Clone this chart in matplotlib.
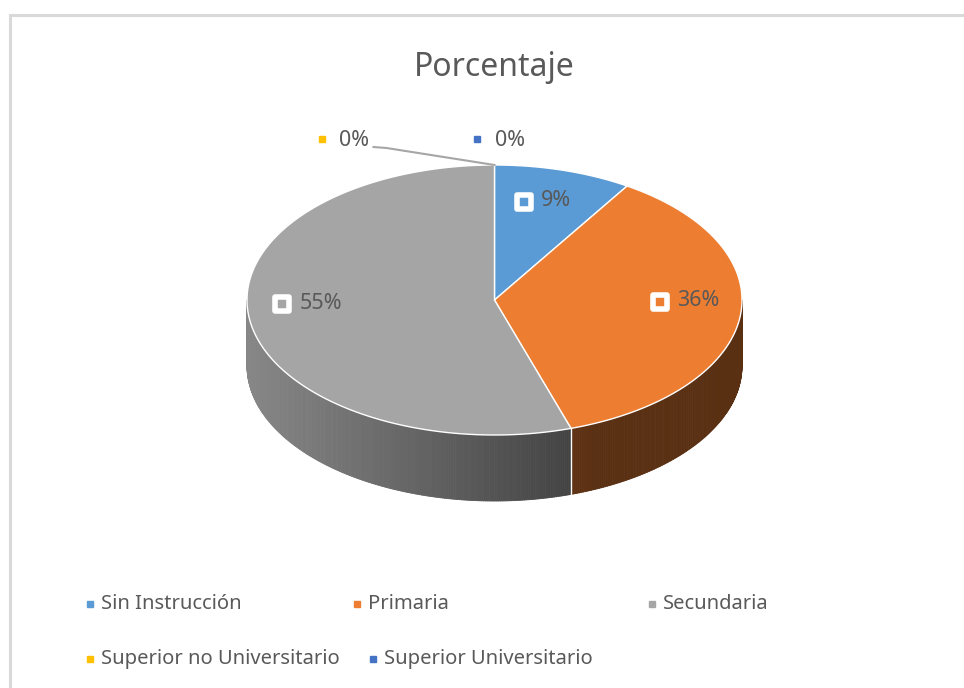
import numpy as np
import matplotlib
matplotlib.use("Agg")
import matplotlib.pyplot as plt
from matplotlib.patches import Polygon
from matplotlib.collections import PolyCollection
from matplotlib.markers import MarkerStyle
from matplotlib import colors as mcolors

# ---------------- data ----------------
title = "Porcentaje"
categories = ["Sin Instrucción", "Primaria", "Secundaria",
              "Superior no Universitario", "Superior Universitario"]
values = [9, 36, 55, 0, 0]
labels = ["9%", "36%", "55%", "0%", "0%"]
slice_colors = ["#5b9bd5", "#ed7d31", "#a5a5a5", "#ffc000", "#4472c4"]

# ---------------- layout ----------------
W, H = 964, 688
CX, CY, RX, RY, DEPTH = 494.5, 300.0, 247.5, 135.0, 66.0
TEXT = "#595959"
FONT = ["Liberation Sans Narrow", "Noto Sans", "DejaVu Sans"]

fig = plt.figure(figsize=(W / 100, H / 100), dpi=100)
ax = fig.add_axes([0, 0, 1, 1])
ax.set_xlim(0, W)
ax.set_ylim(H, 0)
ax.axis("off")

# chart frame
ax.plot([9.5, 9.5, W + 5], [H + 5, 14.5, 14.5], color="#d9d9d9", lw=2.2,
        solid_joinstyle="miter", zorder=0)


def pt(theta_deg, r=1.0, dy=0.0):
    t = np.radians(theta_deg)
    return CX + r * RX * np.cos(t), CY - r * RY * np.sin(t) + dy


total = float(sum(values))
cum = np.concatenate([[0], np.cumsum(values)]) / total
starts = 90 - 360 * cum[:-1]
ends = 90 - 360 * cum[1:]


def shade(color, x):
    rgb = np.array(mcolors.to_rgb(color))
    f = 0.82 - 0.42 * (x - (CX - RX)) / 330.0
    f = max(f, 0.38)
    return tuple(np.clip(rgb * f, 0, 1))


# ---------------- sides (front half only) ----------------
for v, c, a0, a1 in zip(values, slice_colors, starts, ends):
    if v <= 0:
        continue
    hi, lo = a0, a1
    segs, cols = [], []
    for k in range(-1, 1):
        vis_hi = min(hi, 0 + 360 * k)
        vis_lo = max(lo, -180 + 360 * k)
        if vis_hi <= vis_lo:
            continue
        th = np.linspace(vis_hi, vis_lo, max(int((vis_hi - vis_lo) * 2), 2))
        for t1, t2 in zip(th[:-1], th[1:]):
            x1, y1 = pt(t1)
            x2, y2 = pt(t2)
            segs.append([(x1, y1), (x2, y2), (x2, y2 + DEPTH), (x1, y1 + DEPTH)])
            cols.append(shade(c, (x1 + x2) / 2))
    if segs:
        ax.add_collection(PolyCollection(segs, facecolors=cols, edgecolors=cols,
                                         linewidths=0.6, zorder=1))

# white boundary lines on the side
for a in list(starts) + [ends[-1]]:
    s = np.sin(np.radians(a))
    if s < -0.05:
        x, y = pt(a)
        ax.plot([x, x], [y, y + DEPTH], color="white", lw=1.0, zorder=2)

# ---------------- top ----------------
for v, c, a0, a1 in zip(values, slice_colors, starts, ends):
    if v <= 0:
        continue
    th = np.linspace(a0, a1, 200)
    xs, ys = pt(th)
    poly = [(CX, CY)] + list(zip(xs, ys))
    ax.add_patch(Polygon(poly, closed=True, facecolor=c, edgecolor="white",
                         lw=1.0, zorder=3))

# ---------------- data labels ----------------
box = MarkerStyle("s", joinstyle="round")


def boxed_marker(x, y, c):
    ax.plot([x], [y], marker=box, markersize=10, markerfacecolor=c,
            markeredgecolor="white", markeredgewidth=4.0,
            linestyle="none", zorder=5)

label_fs = 15.5
for v, c, a0, a1, lab in zip(values, slice_colors, starts, ends, labels):
    if v <= 0:
        continue
    mid = (a0 + a1) / 2
    t = np.radians(mid)
    lx = CX + 0.77 * RX * np.cos(t)
    ly = CY - 11 - 0.68 * RY * np.sin(t)
    boxed_marker(lx - 24, ly + 1, c)
    ax.text(lx - 7, ly, lab, ha="left", va="center", fontsize=label_fs,
            color=TEXT, family=FONT, zorder=6)

# zero-value slices: labels outside above the top point
tx, ty = pt(90)
zero_offsets = {3: (-173.0, -26.0), 4: (-17.5, -26.0)}
for i, (v, c, lab) in enumerate(zip(values, slice_colors, labels)):
    if v > 0:
        continue
    ox, oy = zero_offsets[i]
    mx, my = tx + ox, ty + oy
    ax.plot([mx], [my], marker="s", markersize=5, color=c, linestyle="none", zorder=5)
    ax.text(mx + 18, my + 2, lab, ha="left", va="center", fontsize=label_fs,
            color=TEXT, family=FONT, zorder=6)
    if i == 3:
        ax.plot([tx, tx - 108, tx - 121], [ty, ty - 17, ty - 18],
                color="#a6a6a6", lw=1.5, zorder=4)

# ---------------- title ----------------
ax.text(CX, 68, title, ha="center", va="center", fontsize=23, color=TEXT,
        family=FONT)

# ---------------- legend ----------------
leg_pos = [(90, 604), (357, 604), (652, 604), (90, 659), (373, 659)]
for (x, y), c, name in zip(leg_pos, slice_colors, categories):
    ax.plot([x], [y], marker="s", markersize=5, color=c, linestyle="none")
    ax.text(x + 11, y, name, ha="left", va="center", fontsize=14.5,
            color=TEXT, family=FONT)

fig.savefig("out.png", dpi=100, facecolor="white")
